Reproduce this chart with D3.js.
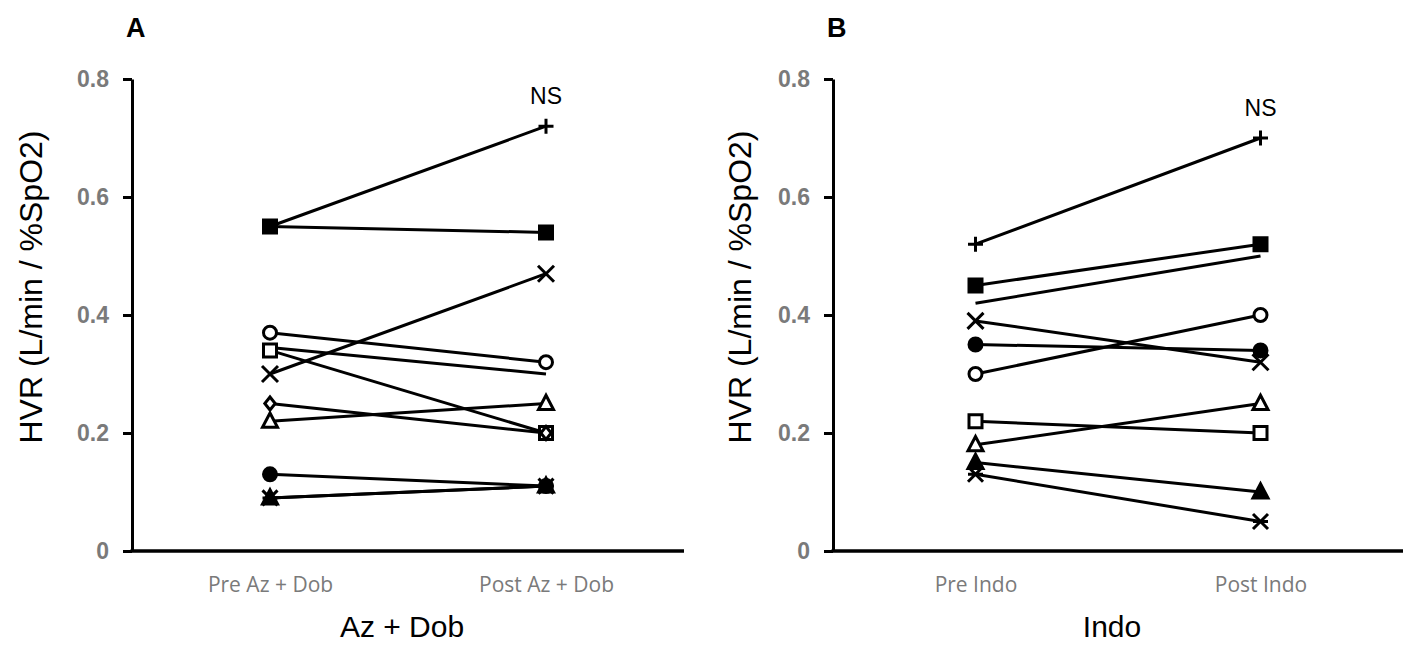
<!DOCTYPE html>
<html><head><meta charset="utf-8">
<script src="https://cdn.jsdelivr.net/npm/d3@7"></script>
<style>body{margin:0;background:#fff}svg{display:block}</style>
</head><body>
<svg id="c" width="1410" height="646"></svg>
<script>
const categoriesA = ["Pre Az + Dob", "Post Az + Dob"];
const categoriesB = ["Pre Indo", "Post Indo"];
const yTicks = [0, 0.2, 0.4, 0.6, 0.8];
const markersA = ["plus","fsquare","x","ocircle","osquare","none","odiamond","otriangle","fcircle","ftriangle","asterisk"];
const preA  = [0.55,0.55,0.30,0.37,0.34,0.345,0.25,0.22,0.13,0.09,0.09];
const postA = [0.72,0.54,0.47,0.32,0.20,0.30,0.20,0.25,0.11,0.11,0.11];
const markersB = ["plus","fsquare","none","x","fcircle","ocircle","osquare","otriangle","ftriangle","asterisk"];
const preB  = [0.52,0.45,0.42,0.39,0.35,0.30,0.22,0.18,0.15,0.13];
const postB = [0.70,0.52,0.50,0.32,0.34,0.40,0.20,0.25,0.10,0.05];
const panelLabels = ["A","B"];
const xTitles = ["Az + Dob","Indo"];
const yTitle = "HVR (L/min / %SpO2)";
const sigLabel = "NS";

const svg = d3.select("#c");
const plotTop = 79, plotBottom = 551;

function markerPath(type, s){
  const p = d3.path();
  switch(type){
    case "fsquare": case "osquare": p.rect(-s,-s,2*s,2*s); break;
    case "fcircle": case "ocircle": p.arc(0,0,s,0,2*Math.PI); p.closePath(); break;
    case "odiamond": p.moveTo(0,-s); p.lineTo(s*0.8,0); p.lineTo(0,s); p.lineTo(-s*0.8,0); p.closePath(); break;
    case "otriangle": case "ftriangle": p.moveTo(0,-s*1.1); p.lineTo(s,s*0.8); p.lineTo(-s,s*0.8); p.closePath(); break;
    case "plus": p.moveTo(-s,0); p.lineTo(s,0); p.moveTo(0,-s); p.lineTo(0,s); break;
    case "x": p.moveTo(-s,-s); p.lineTo(s,s); p.moveTo(s,-s); p.lineTo(-s,s); break;
    case "asterisk": p.moveTo(-s,-s); p.lineTo(s,s); p.moveTo(s,-s); p.lineTo(-s,s); p.moveTo(-s,0); p.lineTo(s,0); break;
  }
  return p.toString();
}
const markerSize = {fsquare:6.5, osquare:6.5, fcircle:6.5, ocircle:6.5, odiamond:6.5, otriangle:7.5, ftriangle:7.5, plus:7.5, x:8, asterisk:7.5};
function markerFill(t){ return t.startsWith("f") ? "#000" : (t.startsWith("o") ? "#fff" : "none"); }

function panel(cfg){
  const x = d3.scalePoint().domain(cfg.categories).range([cfg.x0, cfg.x1]).padding(0.5);
  const y = d3.scaleLinear().domain([0,0.8]).range([plotBottom, plotTop]);
  const g = svg.append("g");

  const ya = g.append("g").attr("transform",`translate(${cfg.x0},0)`)
    .call(d3.axisLeft(y).tickValues(yTicks).tickSize(9).tickSizeOuter(0).tickPadding(14)
      .tickFormat(d => d===0 ? "0" : d3.format(".1f")(d)));
  ya.select(".domain").attr("stroke","#000").attr("stroke-width",3);
  ya.selectAll(".tick line").attr("stroke","#000").attr("stroke-width",3);
  ya.selectAll(".tick text").attr("font-family","'Liberation Sans', Arial, sans-serif")
    .attr("font-weight","bold").attr("font-size",23).attr("fill","#7a7a7a");

  const xa = g.append("g").attr("transform",`translate(0,${plotBottom})`)
    .call(d3.axisBottom(x).tickSize(0).tickSizeOuter(0).tickPadding(26));
  xa.select(".domain").attr("stroke","#000").attr("stroke-width",3.5)
    .attr("d", `M${cfg.x0-1.5},0H${cfg.x1}`);
  xa.selectAll(".tick text").attr("font-family","'Open Sans', sans-serif")
    .attr("font-size",21).attr("fill","#7a7a7a");

  const data = cfg.markers.map((m,i)=>({m, v:[cfg.pre[i], cfg.post[i]]}));
  g.append("g").selectAll("line").data(data).join("line")
    .attr("x1", x(cfg.categories[0])).attr("x2", x(cfg.categories[1]))
    .attr("y1", d=>y(d.v[0])).attr("y2", d=>y(d.v[1]))
    .attr("stroke","#000").attr("stroke-width",3);
  const pts = [];
  data.forEach(d=>{ if(d.m!=="none") d.v.forEach((v,j)=>pts.push({m:d.m, cx:x(cfg.categories[j]), cy:y(v)})); });
  g.append("g").selectAll("path").data(pts).join("path")
    .attr("transform", d=>`translate(${d.cx},${d.cy})`)
    .attr("d", d=>markerPath(d.m, markerSize[d.m]))
    .attr("fill", d=>markerFill(d.m))
    .attr("stroke","#000").attr("stroke-width",3);

  g.append("text").attr("x", x(cfg.categories[1])).attr("y", cfg.nsY)
    .attr("text-anchor","middle").attr("font-family","'Liberation Sans', Arial, sans-serif")
    .attr("font-size",23).text(sigLabel);
  g.append("text").attr("x", cfg.labelX).attr("y", 37)
    .attr("font-family","'Liberation Sans', Arial, sans-serif").attr("font-weight","bold")
    .attr("font-size",27).text(cfg.label);
  g.append("text").attr("x", (cfg.x0+cfg.x1)/2 - 6).attr("y", 637)
    .attr("text-anchor","middle").attr("font-family","'Liberation Sans', Arial, sans-serif")
    .attr("font-size",30).text(cfg.xTitle);
  g.append("text").attr("transform",`translate(${cfg.yTitleX},287) rotate(-90)`)
    .attr("text-anchor","middle").attr("dominant-baseline","central")
    .attr("font-family","'Liberation Sans', Arial, sans-serif")
    .attr("font-size",32).text(yTitle);
}

panel({categories:categoriesA, markers:markersA, pre:preA, post:postA, x0:132, x1:684,
       nsY:104, label:panelLabels[0], labelX:126, xTitle:xTitles[0], yTitleX:31});
panel({categories:categoriesB, markers:markersB, pre:preB, post:postB, x0:833, x1:1403,
       nsY:116, label:panelLabels[1], labelX:827, xTitle:xTitles[1], yTitleX:740});
</script>
</body></html>
